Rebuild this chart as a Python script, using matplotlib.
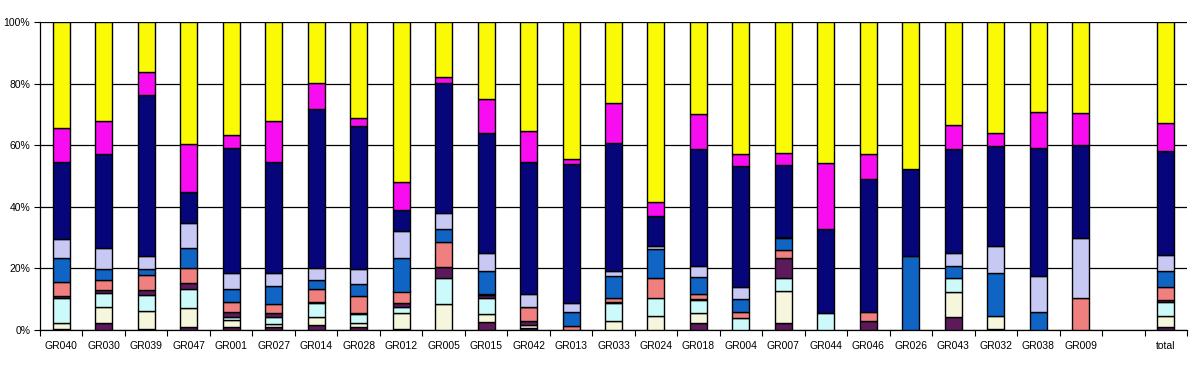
import numpy as np
import matplotlib.pyplot as plt

# categories (blank slot before "total")
groups = ["GR040", "GR030", "GR039", "GR047", "GR001", "GR027", "GR014", "GR028",
          "GR012", "GR005", "GR015", "GR042", "GR013", "GR033", "GR024", "GR018",
          "GR004", "GR007", "GR044", "GR046", "GR026", "GR043", "GR032", "GR038",
          "GR009", "", "total"]

# series, bottom to top (percent)
s0 = [0.3, 2.4, 0.2, 1.1, 1.0, 1.1, 1.6, 1.0, 0.2, 0.0, 2.7, 0.5, 0.0, 0.0,
      0.0, 2.2, 0.0, 2.4, 0.0, 0.0, 0.0, 4.3, 0.3, 0.0, 0.0, 0, 1.1]
s1 = [2.0, 5.0, 6.1, 5.9, 2.3, 0.9, 2.7, 1.4, 5.2, 8.5, 2.4, 1.1, 0.0, 3.0,
      4.6, 3.4, 0.0, 10.4, 0.0, 0.0, 0.0, 8.2, 4.4, 0.0, 0.0, 0, 3.5]
s2 = [8.2, 4.5, 5.1, 6.2, 1.0, 2.3, 4.4, 2.8, 2.0, 8.3, 5.4, 0.0, 0.0, 5.9,
      5.9, 4.2, 4.0, 4.2, 5.4, 0.0, 0.0, 4.3, 0.0, 0.0, 0.0, 0, 4.6]
s3 = [0.5, 1.1, 1.6, 2.0, 1.7, 1.1, 0.3, 0.3, 1.3, 3.5, 0.8, 1.4, 0.0, 0.2,
      0.0, 0.4, 0.0, 6.5, 0.0, 3.0, 0.0, 0.0, 0.0, 0.0, 0.0, 0, 0.6]
s4 = [4.7, 3.3, 4.9, 4.8, 3.2, 3.1, 4.2, 5.6, 3.8, 8.2, 0.3, 4.4, 1.3, 1.4,
      6.5, 1.4, 2.0, 2.5, 0.0, 2.7, 0.0, 0.0, 0.0, 0.0, 10.3, 0, 4.1]
s5 = [7.6, 3.4, 1.8, 6.5, 4.2, 5.9, 3.1, 3.7, 10.8, 4.2, 7.4, 0.2, 4.7, 7.1,
      9.2, 5.5, 4.0, 3.8, 0.0, 0.0, 24.1, 4.1, 13.7, 6.0, 0.0, 0, 5.1]
s6 = [6.2, 6.8, 4.4, 8.4, 5.2, 4.2, 3.7, 4.9, 9.0, 5.2, 5.9, 4.1, 2.9, 1.7,
      1.1, 3.7, 3.9, 0.3, 0.0, 0.0, 0.0, 4.2, 8.9, 11.6, 19.5, 0, 5.4]
s7 = [25.0, 30.6, 52.1, 9.8, 40.4, 35.9, 51.8, 46.4, 6.7, 42.3, 39.0, 42.8, 45.1, 41.4,
      9.8, 37.9, 39.4, 23.5, 27.3, 43.3, 28.1, 33.6, 32.3, 41.4, 30.3, 0, 33.6]
s8 = [11.0, 10.8, 7.5, 15.6, 4.2, 13.2, 8.4, 2.7, 9.2, 2.1, 11.2, 10.0, 1.5, 13.0,
      4.6, 11.5, 3.8, 4.0, 21.5, 8.2, 0.0, 7.9, 4.3, 11.7, 10.3, 0, 9.2]
s9 = [34.5, 32.1, 16.3, 39.7, 36.8, 32.3, 19.8, 31.2, 51.8, 17.7, 24.9, 35.5, 44.5, 26.3,
      58.3, 29.8, 42.9, 42.4, 45.8, 42.8, 47.8, 33.4, 36.1, 29.3, 29.6, 0, 32.8]

series = [s0, s1, s2, s3, s4, s5, s6, s7, s8, s9]
colors = ["#5c1a5a", "#f6f6dc", "#ccfafa", "#5c1a5a", "#f08080",
          "#1064c4", "#c8c8f4", "#06067a", "#f80cf0", "#fafa06"]

data = np.array(series, dtype=float)
tot = data.sum(axis=0)
tot[tot == 0] = 1
data = data / tot * 100

plt.rcParams['font.family'] = ['Liberation Sans', 'DejaVu Sans']

fig = plt.figure(figsize=(12.01, 3.67), dpi=100)
ax = fig.add_axes([40 / 1201, 1 - 330 / 367, 1147 / 1201, 308 / 367])

x = np.arange(len(groups))
bottom = np.zeros(len(groups))
for vals, c in zip(data, colors):
    keep = vals > 0
    ax.bar(x[keep], vals[keep], 0.4, bottom=bottom[keep], color=c,
           edgecolor="black", linewidth=1.0, zorder=3)
    bottom += vals

ax.set_xlim(-0.5, len(groups) - 0.5)
ax.set_ylim(0, 100)
ax.set_yticks(np.arange(0, 101, 20))
ax.set_yticklabels(["%d%%" % v for v in range(0, 101, 20)], fontsize=7.5)
ax.yaxis.grid(True, color="black", linewidth=0.9, zorder=0)
ax.set_axisbelow(True)

ax.set_xticks(x)
ax.set_xticklabels(groups, fontsize=7.5)
ax.set_xticks(np.arange(-0.5, len(groups), 1), minor=True)
ax.tick_params(axis="x", which="major", length=0, pad=8)
ax.tick_params(axis="x", which="minor", length=4, width=0.8, direction="out")
ax.tick_params(axis="y", length=4, width=0.8, direction="out", pad=3)

for sp in ["top", "right"]:
    ax.spines[sp].set_visible(False)
for sp in ["left", "bottom"]:
    ax.spines[sp].set_linewidth(0.9)

fig.savefig("out.png", dpi=100)
